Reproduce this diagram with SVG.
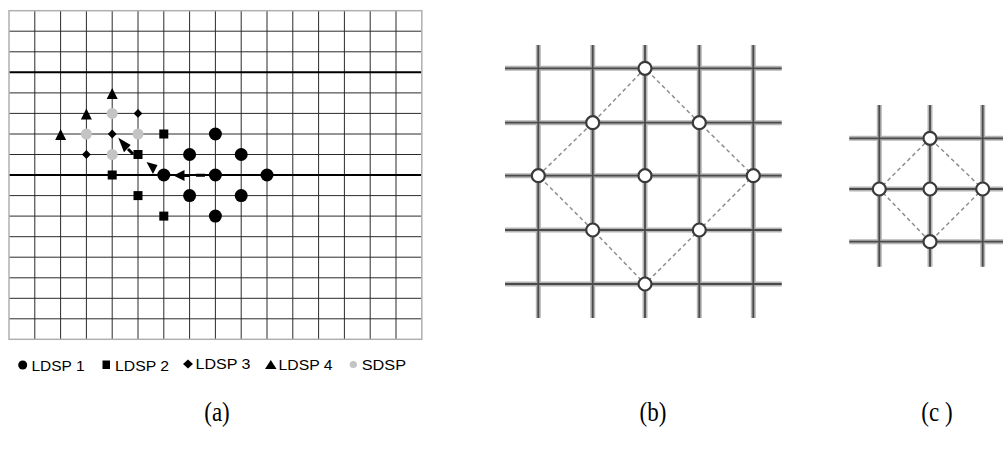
<svg xmlns="http://www.w3.org/2000/svg" width="1003" height="450" viewBox="0 0 1003 450">
<style>
.g{stroke:#2a2a2a;stroke-width:1;fill:none}
.gt{stroke:#000;stroke-width:2;fill:none}
.bd{stroke:#b0b0b0;stroke-width:1.5;fill:none}
.bk{fill:#000}
.gr{fill:#c4c4c4}
.lg{font-family:"Liberation Sans",Arial,sans-serif;font-size:14px;fill:#000}
.cap{font-family:"Liberation Serif","Times New Roman",serif;font-size:23px;fill:#000}
.bl{stroke:#b4b4b4;stroke-width:5;fill:none}
.bc{stroke:#4a4a4a;stroke-width:1.8;fill:none}
.dl{stroke:#8f8f8f;stroke-width:1.5;stroke-dasharray:4 3;fill:none}
.nd{fill:#fff;stroke:#3a3a3a;stroke-width:2.2}
</style>
<rect width="1003" height="450" fill="#fff"/>
<g id="panel-a">
<g id="grid-a">
<path class="g" d="M34.8 10.7V339.3M60.6 10.7V339.3M86.4 10.7V339.3M112.2 10.7V339.3M138 10.7V339.3M163.8 10.7V339.3M189.6 10.7V339.3M215.4 10.7V339.3M241.2 10.7V339.3M267 10.7V339.3M292.8 10.7V339.3M318.6 10.7V339.3M344.4 10.7V339.3M370.2 10.7V339.3M396 10.7V339.3"/>
<path class="g" d="M9 31.2H421.8M9 51.8H421.8M9 92.9H421.8M9 113.4H421.8M9 134H421.8M9 154.5H421.8M9 195.6H421.8M9 216.1H421.8M9 236.7H421.8M9 257.2H421.8M9 277.8H421.8M9 298.3H421.8M9 318.8H421.8"/>
<path class="gt" d="M9 72.3H421.8M9 175H421.8"/>
<rect class="bd" x="9" y="10.7" width="412.8" height="328.6"/>
</g>
<g id="ldsp1">
<circle class="bk" cx="215.4" cy="134" r="6.5"/>
<circle class="bk" cx="189.6" cy="154.5" r="6.5"/>
<circle class="bk" cx="241.2" cy="154.5" r="6.5"/>
<circle class="bk" cx="163.8" cy="175" r="6.5"/>
<circle class="bk" cx="215.4" cy="175" r="6.5"/>
<circle class="bk" cx="267" cy="175" r="6.5"/>
<circle class="bk" cx="189.6" cy="195.6" r="6.5"/>
<circle class="bk" cx="241.2" cy="195.6" r="6.5"/>
<circle class="bk" cx="215.4" cy="216.1" r="6.5"/>
</g>
<g id="ldsp2">
<rect class="bk" x="159.3" y="129.5" width="9" height="9"/>
<rect class="bk" x="133.5" y="150" width="9" height="9"/>
<rect class="bk" x="107.7" y="170.5" width="9" height="9"/>
<rect class="bk" x="133.5" y="191.1" width="9" height="9"/>
<rect class="bk" x="159.3" y="211.6" width="9" height="9"/>
</g>
<g id="ldsp3">
<polygon class="bk" points="138,109 142.4,113.4 138,117.8 133.6,113.4"/>
<polygon class="bk" points="112.2,129.6 116.6,134 112.2,138.4 107.8,134"/>
<polygon class="bk" points="86.4,150.1 90.8,154.5 86.4,158.9 82,154.5"/>
</g>
<g id="ldsp4">
<polygon class="bk" points="112.2,88 117.7,99 106.7,99"/>
<polygon class="bk" points="86.4,108.5 91.9,119.5 80.9,119.5"/>
<polygon class="bk" points="60.6,129 66.1,140 55.1,140"/>
</g>
<g id="sdsp">
<circle class="gr" cx="112.2" cy="113.4" r="5.5"/>
<circle class="gr" cx="86.4" cy="134" r="5.5"/>
<circle class="gr" cx="138" cy="134" r="5.5"/>
<circle class="gr" cx="112.2" cy="154.5" r="5.5"/>
</g>
<g id="connectors">
<polygon class="bk" points="173.5,175.5 184.5,170 184.5,181"/>
<path d="M184 175.5H190M196 175.3H205" stroke="#000" stroke-width="3"/>
<polygon class="bk" points="146.5,162 157.5,165 153,174"/>
<polygon class="bk" points="118.3,137.7 130.7,145 124,152.3"/>
<path d="M128 149L133 154" stroke="#000" stroke-width="3"/>
</g>
<g id="legend">
<circle class="bk" cx="22.7" cy="365" r="4.5"/>
<text class="lg" x="31.5" y="370.5" textLength="53" lengthAdjust="spacingAndGlyphs">LDSP 1</text>
<rect class="bk" x="102.5" y="360.5" width="7.5" height="8.5"/>
<text class="lg" x="115" y="370.5" textLength="54" lengthAdjust="spacingAndGlyphs">LDSP 2</text>
<polygon class="bk" points="188,359.5 193,364 188,368.5 183,364"/>
<text class="lg" x="195.5" y="368.5" textLength="55" lengthAdjust="spacingAndGlyphs">LDSP 3</text>
<polygon class="bk" points="270.8,360 276.5,369 265,369"/>
<text class="lg" x="278.5" y="369.5" textLength="54" lengthAdjust="spacingAndGlyphs">LDSP 4</text>
<circle class="gr" cx="353.3" cy="364.5" r="3.6"/>
<text class="lg" x="361.7" y="369.5" textLength="44.3" lengthAdjust="spacingAndGlyphs">SDSP</text>
</g>
<text class="cap" text-anchor="middle" transform="translate(217 421) scale(1 1.22)">(a)</text>
</g>
<g id="panel-b">
<g id="grid-b">
<path class="bl" d="M538.3 45V318M592.7 45V318M645 45V318M699.3 45V318M753.3 45V318M505 68.3H781.7M505 122.7H781.7M505 175.7H781.7M505 230H781.7M505 284H781.7"/>
<path class="bc" d="M538.3 45V318M592.7 45V318M645 45V318M699.3 45V318M753.3 45V318M505 68.3H781.7M505 122.7H781.7M505 175.7H781.7M505 230H781.7M505 284H781.7"/>
</g>
<g id="edges-b">
<path class="dl" d="M645 68.3L592.7 122.7L538.3 175.7L592.7 230L645 284L699.3 230L753.3 175.7L699.3 122.7Z"/>
</g>
<g id="nodes-b">
<circle class="nd" cx="645" cy="68.3" r="6.5"/>
<circle class="nd" cx="592.7" cy="122.7" r="6.5"/>
<circle class="nd" cx="699.3" cy="122.7" r="6.5"/>
<circle class="nd" cx="538.3" cy="175.7" r="6.5"/>
<circle class="nd" cx="645" cy="175.7" r="6.5"/>
<circle class="nd" cx="753.3" cy="175.7" r="6.5"/>
<circle class="nd" cx="592.7" cy="230" r="6.5"/>
<circle class="nd" cx="699.3" cy="230" r="6.5"/>
<circle class="nd" cx="645" cy="284" r="6.5"/>
</g>
<text class="cap" text-anchor="middle" transform="translate(653 421) scale(1 1.22)">(b)</text>
</g>
<g id="panel-c">
<g id="grid-c">
<path class="bl" d="M879.3 105V266.7M930 105V266.7M982.7 105V266.7M849.3 138.3H1003M849.3 189H1003M849.3 241.7H1003"/>
<path class="bc" d="M879.3 105V266.7M930 105V266.7M982.7 105V266.7M849.3 138.3H1003M849.3 189H1003M849.3 241.7H1003"/>
</g>
<g id="edges-c">
<path class="dl" d="M930 138.3L879.3 189L930 241.7L982.7 189Z"/>
</g>
<g id="nodes-c">
<circle class="nd" cx="930" cy="138.3" r="6.5"/>
<circle class="nd" cx="879.3" cy="189" r="6.5"/>
<circle class="nd" cx="930" cy="189" r="6.5"/>
<circle class="nd" cx="982.7" cy="189" r="6.5"/>
<circle class="nd" cx="930" cy="241.7" r="6.5"/>
</g>
<text class="cap" text-anchor="middle" transform="translate(937 421) scale(1 1.22)">(c )</text>
</g>
</svg>
